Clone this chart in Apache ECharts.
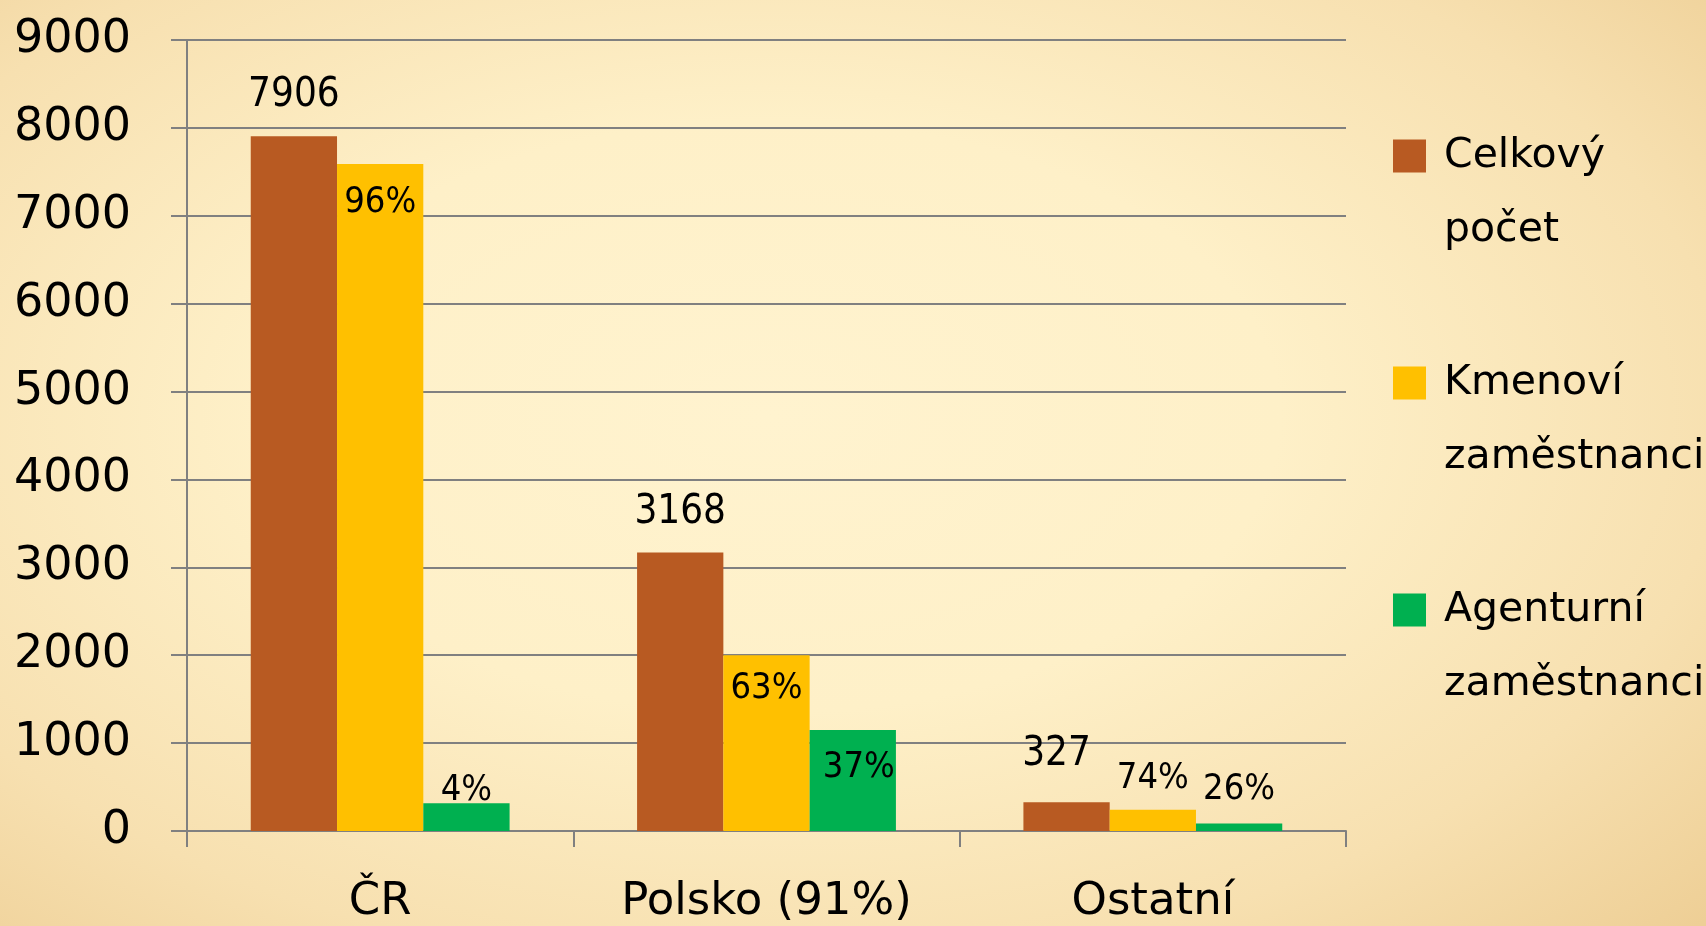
<!DOCTYPE html>
<html>
<head>
<meta charset="utf-8">
<script src="https://cdn.jsdelivr.net/npm/echarts@6/dist/echarts.min.js"></script>
<style>
html, body { margin: 0; padding: 0; }
#chart {
    width: 1706px;
    height: 926px;
    background: radial-gradient(ellipse 75% 80% at 45% 45%, #fff3cf 0%, #fef0c8 40%, #f7e0b0 75%, #eecf96 100%);
}
</style>
</head>
<body>
<div id="chart"></div>
<script>
var categories = ['ČR', 'Polsko (91%)', 'Ostatní'];
var celkovy = [7906, 3168, 327];
var kmenovi = [7590, 2000, 242];
var agenturni = [316, 1150, 85];
var kmenoviPct = [96, 63, 74];
var agenturniPct = [4, 37, 26];
var legendNames = ['Celkový\npočet', 'Kmenoví\nzaměstnanci', 'Agenturní\nzaměstnanci'];

var font = "'DejaVu Sans', sans-serif";
var narrow = "'DejaVu Sans Condensed', 'DejaVu Sans', sans-serif";
var gray = '#808080';

// label placement per bar (style only)
var celkovyLabel = [
    { position: 'top', distance: 21 },
    { position: 'top', distance: 20 },
    { position: 'top', distance: 28, offset: [-10, 0] }
];
var kmenoviLabel = [
    { position: 'insideTop', distance: 21 },
    { position: 'insideTop', distance: 15 },
    { position: 'top', distance: 13 }
];
var agenturniLabel = [
    { position: 'top', distance: -5 },
    { position: 'insideTop', distance: 20, offset: [6, 0] },
    { position: 'top', distance: 16 }
];

function withLabels(values, labels) {
    return values.map(function (v, i) {
        return { value: v, label: labels[i] };
    });
}

var myChart = echarts.init(document.getElementById('chart'));
myChart.setOption({
    backgroundColor: 'transparent',
    animation: false,
    textStyle: { fontFamily: font },
    grid: {
        left: 187,
        right: 360,
        top: 40,
        bottom: 95,
        containLabel: false,
        outerBoundsMode: 'none'
    },
    legend: {
        orient: 'vertical',
        left: 1388,
        top: 40,
        itemWidth: 33,
        itemHeight: 33,
        itemGap: 5,
        icon: 'rect',
        data: legendNames,
        // blank first line so the icon sits beside the first word
        formatter: function (name) { return '\n' + name; },
        textStyle: {
            fontFamily: font,
            fontSize: 41,
            color: '#000',
            lineHeight: 74,
            padding: [0, 0, 0, 13]
        }
    },
    xAxis: {
        type: 'category',
        data: categories,
        axisLine: { lineStyle: { color: gray, width: 2 } },
        axisTick: { show: true, length: 16, lineStyle: { color: gray, width: 2 } },
        axisLabel: {
            color: '#000',
            fontSize: 45,
            fontFamily: font,
            margin: 49
        }
    },
    yAxis: {
        type: 'value',
        min: 0,
        max: 9000,
        interval: 1000,
        axisLine: { show: true, lineStyle: { color: gray, width: 2 } },
        axisTick: { show: true, length: 16, lineStyle: { color: gray, width: 2 } },
        splitLine: { lineStyle: { color: gray, width: 2 } },
        axisLabel: {
            color: '#000',
            fontSize: 46,
            fontFamily: font,
            margin: 56,
            formatter: function (v) { return String(v); }
        }
    },
    series: [
        {
            name: legendNames[0],
            type: 'bar',
            barGap: '0%',
            barCategoryGap: '33%',
            itemStyle: { color: '#b85a22' },
            label: {
                show: true,
                color: '#000',
                fontSize: 40,
                lineHeight: 40,
                fontFamily: narrow
            },
            data: withLabels(celkovy, celkovyLabel)
        },
        {
            name: legendNames[1],
            type: 'bar',
            itemStyle: { color: '#ffc000' },
            label: {
                show: true,
                color: '#000',
                fontSize: 36,
                lineHeight: 36,
                fontFamily: narrow,
                formatter: function (p) { return kmenoviPct[p.dataIndex] + '%'; }
            },
            data: withLabels(kmenovi, kmenoviLabel)
        },
        {
            name: legendNames[2],
            type: 'bar',
            itemStyle: { color: '#00b050' },
            label: {
                show: true,
                color: '#000',
                fontSize: 36,
                lineHeight: 36,
                fontFamily: narrow,
                formatter: function (p) { return agenturniPct[p.dataIndex] + '%'; }
            },
            data: withLabels(agenturni, agenturniLabel)
        }
    ]
});
</script>
</body>
</html>
